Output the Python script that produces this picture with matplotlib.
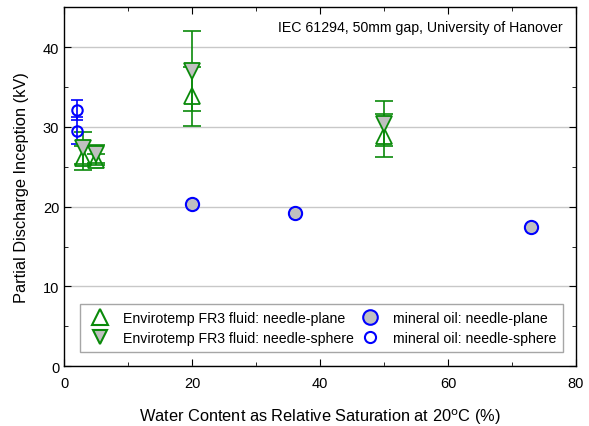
import matplotlib
matplotlib.use("Agg")
import matplotlib.pyplot as plt
from matplotlib.lines import Line2D
from matplotlib.ticker import MultipleLocator

plt.rcParams['font.family'] = ['Liberation Sans', 'DejaVu Sans']

# Envirotemp FR3 fluid
fr3_x = [3, 5, 20, 50]
fr3_plane = [26.1, 25.9, 33.8, 28.9]
fr3_plane_err = [1.5, 0.7, 3.7, 2.7]
fr3_sphere = [27.4, 26.6, 37.0, 30.4]
fr3_sphere_err = [2.0, 1.1, 5.0, 2.8]

# Mineral oil
min_plane_x = [20, 36, 73]
min_plane = [20.3, 19.2, 17.4]
min_sphere_x = [2, 2]
min_sphere = [32.1, 29.5]
min_sphere_err = [1.2, 1.7]

green = '#0a8a0a'
blue = '#0000ff'
grey = '#c0c0c0'

fig = plt.figure(figsize=(5.89, 4.27), dpi=100)
ax = fig.add_axes([0.109, 0.140, 0.869, 0.841])

ax.errorbar(fr3_x, fr3_plane, yerr=fr3_plane_err, fmt='none', ecolor=green,
            elinewidth=1.2, capsize=6.5, capthick=1.2, zorder=3)
ax.errorbar(fr3_x, fr3_sphere, yerr=fr3_sphere_err, fmt='none', ecolor=green,
            elinewidth=1.2, capsize=6.5, capthick=1.2, zorder=3)
ax.errorbar(min_sphere_x, min_sphere, yerr=min_sphere_err, fmt='none', ecolor=blue,
            elinewidth=1.2, capsize=4, capthick=1.2, zorder=3)

ax.plot(fr3_x, fr3_plane, linestyle='none', marker='^', markersize=11,
        markerfacecolor='none', markeredgecolor=green, markeredgewidth=1.3, zorder=4)
ax.plot(fr3_x, fr3_sphere, linestyle='none', marker='v', markersize=11,
        markerfacecolor=grey, markeredgecolor=green, markeredgewidth=1.3, zorder=4)
ax.plot(min_plane_x, min_plane, linestyle='none', marker='o', markersize=9.5,
        markerfacecolor=grey, markeredgecolor=blue, markeredgewidth=1.5, zorder=4)
ax.plot(min_sphere_x, min_sphere, linestyle='none', marker='o', markersize=7.5,
        markerfacecolor='none', markeredgecolor=blue, markeredgewidth=1.5, zorder=4)

ax.set_xlim(0, 80)
ax.set_ylim(0, 45)
ax.xaxis.set_major_locator(MultipleLocator(20))
ax.xaxis.set_minor_locator(MultipleLocator(10))
ax.yaxis.set_major_locator(MultipleLocator(10))
ax.yaxis.set_minor_locator(MultipleLocator(5))
ax.tick_params(which='both', direction='in', top=True, right=True, labelsize=10.5)
ax.tick_params(axis='x', pad=7)
ax.tick_params(which='major', length=5)
ax.tick_params(which='minor', length=3)
ax.grid(axis='y', which='major', color='#c8c8c8', linewidth=1.0, zorder=0)
ax.set_axisbelow(True)
for s in ax.spines.values():
    s.set_linewidth(1.0)

ax.set_xlabel('Water Content as Relative Saturation at 20$^{\\rm o}$C (%)', fontsize=11.8, labelpad=12)
ax.set_ylabel('Partial Discharge Inception (kV)', fontsize=11.8, labelpad=10)

ax.text(0.974, 0.944, 'IEC 61294, 50mm gap, University of Hanover', transform=ax.transAxes,
        ha='right', va='center', fontsize=10.2)

handles = [
    Line2D([], [], linestyle='none', marker='^', markersize=11, markerfacecolor='none',
           markeredgecolor=green, markeredgewidth=1.5),
    Line2D([], [], linestyle='none', marker='v', markersize=10, markerfacecolor=grey,
           markeredgecolor=green, markeredgewidth=1.5),
    Line2D([], [], linestyle='none', marker='o', markersize=10.5, markerfacecolor=grey,
           markeredgecolor=blue, markeredgewidth=1.5),
    Line2D([], [], linestyle='none', marker='o', markersize=8, markerfacecolor='none',
           markeredgecolor=blue, markeredgewidth=1.5),
]
labels = ['Envirotemp FR3 fluid: needle-plane', 'Envirotemp FR3 fluid: needle-sphere',
          'mineral oil: needle-plane', 'mineral oil: needle-sphere']
leg = ax.legend(handles, labels, ncol=2, loc='lower right', bbox_to_anchor=(0.975, 0.039),
                borderaxespad=0, fontsize=10.2, frameon=True, fancybox=False,
                edgecolor='#909090', handletextpad=0.65, columnspacing=0.2,
                labelspacing=0.42, borderpad=0.5, handlelength=1.9)
leg.get_frame().set_linewidth(1.0)

fig.savefig('out.png', dpi=100)
